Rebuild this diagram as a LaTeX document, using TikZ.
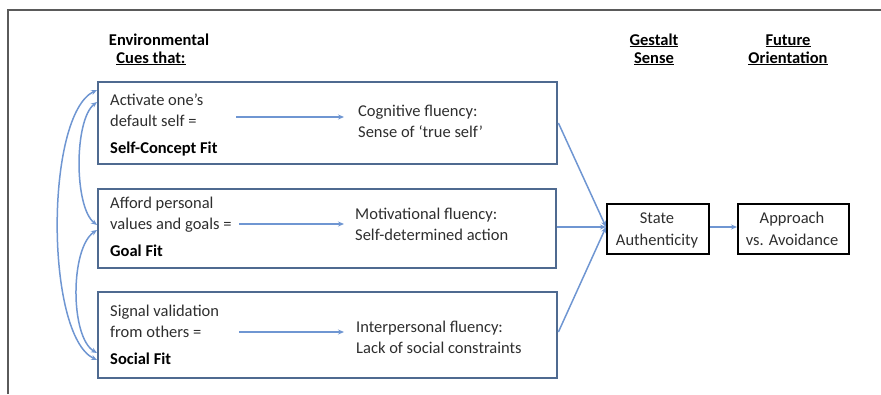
\documentclass[tikz,border=0pt]{standalone}
\usepackage{fontspec}
\setmainfont{Carlito}
\usetikzlibrary{arrows.meta}
\definecolor{boxblue}{HTML}{4F6A90}
\definecolor{arrblue}{HTML}{6F96D2}
\definecolor{txtgrey}{HTML}{2E2E2E}
\definecolor{framegrey}{HTML}{5A5A5A}
\begin{document}
\begin{tikzpicture}[x=1pt,y=-1pt,
  cuebox/.style={draw=boxblue,line width=2.4pt,rectangle,inner sep=0pt,anchor=north west},
  outbox/.style={draw=black,line width=2.2pt,rectangle,inner sep=0pt,anchor=north west,
     minimum width=102pt,minimum height=50pt},
  txt/.style={inner sep=0pt,anchor=base west,text=txtgrey,font=\fontsize{16.5}{21}\selectfont},
  btxt/.style={txt,text=black,font=\fontsize{16.5}{21}\selectfont\bfseries},
  ctxt/.style={inner sep=0pt,anchor=base,text=txtgrey,font=\fontsize{16.5}{21}\selectfont},
  head/.style={inner sep=0pt,anchor=base,text=black,font=\fontsize{16.5}{21}\selectfont\bfseries},
  conn/.style={draw=arrblue,line width=1.5pt,-{Stealth[length=6pt,width=5pt]}},
  dconn/.style={draw=arrblue,line width=1.5pt,{Stealth[length=6pt,width=5pt]}-{Stealth[length=6pt,width=5pt]}}
]
\useasboundingbox (0,0) rectangle (881,394);
% outer frame
\draw[framegrey,line width=2pt] (8,394) -- (8,10) -- (881,10);

% headers
\node[head] (h1a) at (159,45) {Environmental};
\node[head] (h1b) at (151,63) {\underline{Cues that:}};
\node[head] (h2a) at (654,45) {\underline{Gestalt}};
\node[head] (h2b) at (654,63) {\underline{Sense}};
\node[head] (h3a) at (788,45) {\underline{Future}};
\node[head] (h3b) at (788,63) {\underline{Orientation}};

% cue boxes
\node[cuebox,minimum width=459pt,minimum height=82pt] (b1) at (97,81) {};
\node[cuebox,minimum width=458pt,minimum height=79pt] (b2) at (97,188) {};
\node[cuebox,minimum width=459pt,minimum height=86pt] (b3) at (97,291) {};

% box 1 texts
\node[txt] (t1a) at (110,105) {Activate one’s};
\node[txt] (t1b) at (110,126) {default self =};
\node[btxt] (t1c) at (110,153) {Self-Concept Fit};
\node[txt] (f1a) at (358,116) {Cognitive fluency:};
\node[txt] (f1b) at (358,137) {Sense of ‘true self’};
\coordinate (a1s) at (236,117);
\coordinate (a1e) at (344,117);
\draw[conn] (a1s) -- (a1e);

% box 2 texts
\node[txt] (t2a) at (110,208) {Afford personal};
\node[txt] (t2b) at (110,229) {values and goals =};
\node[btxt] (t2c) at (110,256) {Goal Fit};
\node[txt] (f2a) at (355,219) {Motivational fluency:};
\node[txt] (f2b) at (355,240) {Self-determined action};
\coordinate (a2s) at (239,224);
\coordinate (a2e) at (344,224);
\draw[conn] (a2s) -- (a2e);

% box 3 texts
\node[txt] (t3a) at (110,316) {Signal validation};
\node[txt] (t3b) at (110,337) {from others =};
\node[btxt] (t3c) at (110,364) {Social Fit};
\node[txt] (f3a) at (356,332) {Interpersonal fluency:};
\node[txt] (f3b) at (356,353) {Lack of social constraints};
\coordinate (a3s) at (239,332);
\coordinate (a3e) at (344,332);
\draw[conn] (a3s) -- (a3e);

% outcome boxes
\node[outbox] (sa) at (606,203) {};
\node[ctxt] (sat1) at (657,223) {State};
\node[ctxt] (sat2) at (657,245) {Authenticity};
\node[outbox,minimum width=111pt] (ap) at (737,203) {};
\node[ctxt] (apt1) at (792,223) {Approach};
\node[ctxt] (apt2) at (792,245) {vs. Avoidance};

% connectors to State Authenticity
\coordinate (sain) at (606,227);
\draw[conn] (b1.east |- 0,123) -- (sain);
\draw[conn] (b2.east |- 0,227) -- (sain);
\draw[conn] (b3.east |- 0,332) -- (sain);
\draw[conn] (sa.east |- 0,227) -- (ap.west |- 0,227);

% left curved connectors
\coordinate (l1) at (97,90);
\coordinate (l2) at (97,102);
\coordinate (l3) at (97,225);
\coordinate (l4) at (97,230);
\coordinate (l5) at (97,353);
\coordinate (l6) at (97,360);
\draw[dconn] (l1) .. controls (45,115) and (45,335) .. (l6);
\draw[dconn] (l2) .. controls (74,120) and (74,207) .. (l3);
\draw[dconn] (l4) .. controls (70,248) and (70,337) .. (l5);
\end{tikzpicture}
\end{document}
